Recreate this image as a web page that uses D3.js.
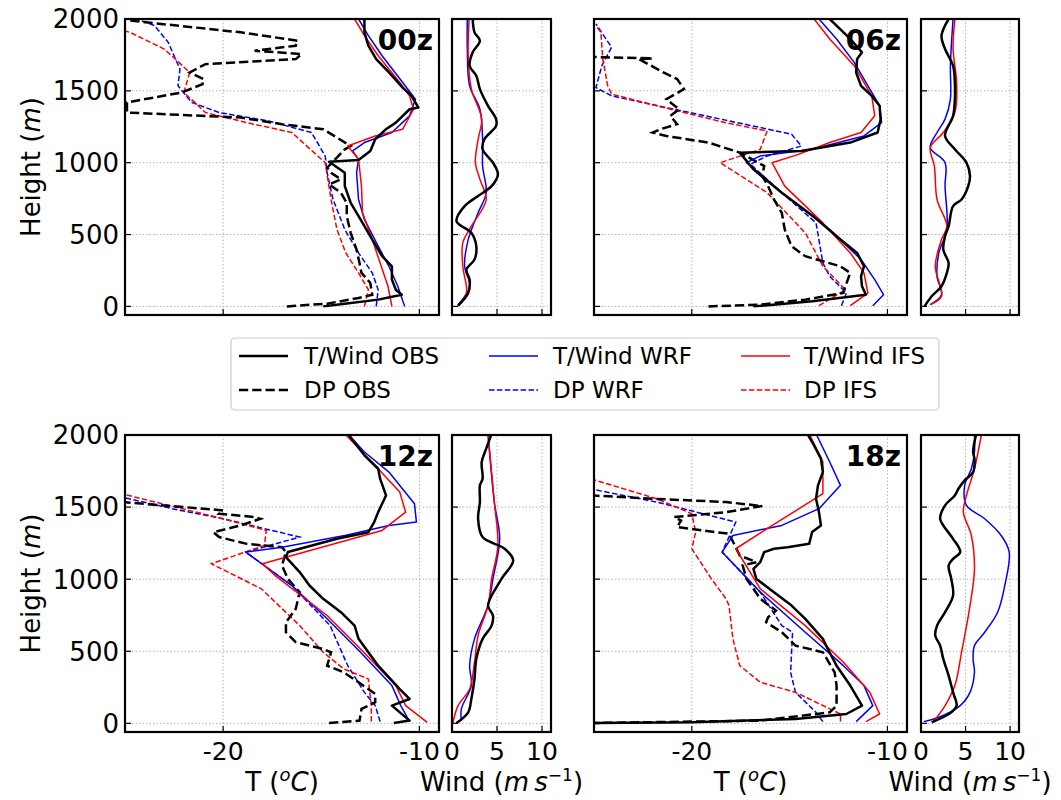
<!DOCTYPE html>
<html><head><meta charset="utf-8">
<script src="https://cdn.jsdelivr.net/npm/d3@7"></script>
<style>body{margin:0;background:#fff}svg{display:block;font-family:"DejaVu Sans",sans-serif}</style>
</head><body><svg id="c" width="1061" height="800"></svg>
<script>
// ---------- tick labels ----------
const timeLabels = ["00z", "06z", "12z", "18z"];
const heightTicks = [0, 500, 1000, 1500, 2000];
const tempTicks = [-20, -10];
const windTicks = [0, 5, 10];
const seriesNames = ["T/Wind OBS", "T/Wind WRF", "T/Wind IFS", "DP OBS", "DP WRF", "DP IFS"];

// ---------- 00z ----------  [value, height m]
const t00Obs = [[-14.9,0],[-13.8,19],[-12.1,47],[-10.9,81],[-11.2,116],[-11.4,186],[-11.4,279],[-11.9,349],[-12.4,465],[-13.0,605],[-13.5,721],[-13.8,837],[-13.8,930],[-14.6,1007],[-13.1,1019],[-12.5,1082],[-12.25,1163],[-11.7,1233],[-11.2,1279],[-10.5,1372],[-10.05,1384],[-10.4,1465],[-10.85,1523],[-11.55,1628],[-12.2,1721],[-12.6,1814],[-12.8,1907],[-12.8,2000]];
const t00Wrf = [[-10.75,0],[-11.1,140],[-11.55,279],[-12.1,419],[-12.8,605],[-13.1,744],[-13.2,930],[-13.1,1023],[-13.4,1082],[-12.8,1140],[-11.4,1210],[-10.5,1326],[-10.2,1442],[-10.85,1558],[-11.9,1744],[-12.6,1884],[-13.1,2000]];
const t00Ifs = [[-11.4,0],[-11.6,140],[-12.0,302],[-12.4,465],[-12.9,651],[-12.95,837],[-13.1,1023],[-13.65,1116],[-12.25,1186],[-10.85,1233],[-10.3,1372],[-10.5,1465],[-11.0,1558],[-12.1,1744],[-12.8,1884],[-13.3,2000]];
const dp00Obs = [[-16.75,0],[-14.7,19],[-13.1,58],[-12.4,81],[-12.5,163],[-12.95,233],[-13.05,302],[-13.2,395],[-13.5,512],[-13.7,628],[-13.7,721],[-14.0,791],[-14.6,849],[-14.0,884],[-14.5,930],[-14.7,965],[-13.8,1093],[-13.5,1116],[-14.9,1233],[-17.0,1268],[-19.1,1314],[-24.9,1349],[-24.9,1419],[-22.1,1489],[-21.05,1547],[-21.0,1582],[-21.7,1628],[-20.9,1686],[-16.3,1721],[-16.0,1756],[-18.4,1779],[-16.3,1814],[-16.2,1849],[-19.1,1907],[-24.75,1989]];
const dp00Wrf = [[-12.2,0],[-12.1,116],[-12.4,233],[-13.1,372],[-13.8,535],[-14.4,744],[-14.7,930],[-14.8,1047],[-15.5,1210],[-17.7,1291],[-20.2,1349],[-21.6,1419],[-22.3,1535],[-22.2,1651],[-22.8,1838],[-23.5,1954],[-24.4,2000]];
const dp00Ifs = [[-12.8,0],[-12.6,116],[-13.1,233],[-13.75,372],[-14.2,535],[-14.5,744],[-14.8,1000],[-16.5,1210],[-18.8,1279],[-20.9,1349],[-22.0,1489],[-21.7,1628],[-23.0,1791],[-24.75,1907],[-25.2,1925]];
const w00Obs = [[0.67,5],[1.8,93],[1.96,186],[1.6,256],[2.5,326],[2.7,419],[2.15,512],[0.5,593],[1.4,698],[2.9,768],[4.4,837],[5.1,919],[4.55,1000],[3.4,1093],[3.6,1163],[4.9,1256],[4.9,1303],[4.0,1396],[3.1,1512],[2.7,1605],[1.96,1675],[2.3,1768],[3.1,1849],[2.5,1907],[2.3,2000]];
const w00Wrf = [[0.67,12],[1.96,140],[1.4,279],[1.8,465],[2.9,651],[3.8,791],[3.4,977],[3.4,1163],[3.1,1372],[1.96,1535],[1.7,1791],[1.7,2000]];
const w00Ifs = [[0.67,5],[1.6,93],[1.2,279],[1.2,442],[2.15,558],[3.8,744],[3.1,884],[2.6,1000],[2.9,1163],[3.3,1303],[2.15,1512],[1.8,1744],[1.9,2000]];

// ---------- 06z ----------
const t06Obs = [[-16.85,0],[-13.85,35],[-11.1,81],[-11.3,140],[-11.35,209],[-11.2,279],[-11.55,372],[-12.4,465],[-13.8,628],[-15.4,791],[-16.85,954],[-17.55,1070],[-14.4,1082],[-11.9,1140],[-10.5,1210],[-10.35,1302],[-10.4,1396],[-10.8,1465],[-11.35,1535],[-11.6,1628],[-11.55,1721],[-11.3,1768],[-11.9,1861],[-12.95,2000]];
const t06Wrf = [[-10.75,5],[-10.2,81],[-10.65,186],[-11.35,326],[-12.95,535],[-15.4,791],[-17.2,1000],[-16.5,1047],[-13.85,1093],[-11.2,1186],[-10.3,1279],[-10.4,1396],[-10.8,1489],[-11.7,1698],[-12.6,1861],[-13.5,2000]];
const t06Ifs = [[-11.9,5],[-11.0,93],[-11.2,233],[-11.9,372],[-13.3,581],[-15.25,837],[-15.9,1000],[-14.55,1058],[-12.95,1140],[-11.35,1210],[-10.65,1326],[-10.8,1465],[-11.7,1675],[-12.95,1861],[-13.75,2000]];
const dp06Obs = [[-19.15,0],[-16.5,12],[-14.2,47],[-12.25,93],[-12.15,140],[-11.9,233],[-12.4,279],[-13.3,314],[-14.2,349],[-14.9,419],[-15.25,535],[-15.4,651],[-15.8,744],[-16.1,837],[-16.4,907],[-16.3,977],[-17.55,1070],[-19.15,1140],[-21.3,1186],[-22.0,1210],[-21.6,1233],[-20.75,1268],[-21.1,1326],[-20.65,1372],[-21.3,1442],[-20.4,1512],[-20.75,1582],[-21.45,1628],[-22.7,1721],[-22.0,1726],[-24.5,1733],[-25.2,1737]];
const dp06Wrf = [[-12.35,5],[-12.1,93],[-12.95,209],[-13.3,302],[-13.65,581],[-15.4,791],[-17.0,989],[-16.15,1047],[-14.4,1116],[-14.9,1198],[-16.1,1233],[-20.9,1372],[-24.1,1465],[-24.9,1523],[-24.6,1675],[-24.1,1803],[-24.9,1965]];
const dp06Ifs = [[-13.5,5],[-12.15,116],[-13.3,279],[-14.2,512],[-16.15,791],[-18.55,1000],[-16.5,1093],[-16.15,1221],[-18.3,1279],[-21.8,1396],[-24.1,1477],[-24.3,1535],[-24.55,1721],[-24.65,1907],[-24.9,1954]];
const w06Obs = [[0.4,0],[1.2,70],[2.3,140],[2.9,233],[3.1,302],[2.5,395],[2.7,488],[3.1,558],[3.6,698],[4.55,744],[5.3,837],[5.5,907],[5.1,1000],[3.8,1093],[2.7,1186],[3.6,1326],[3.8,1442],[3.8,1558],[3.6,1675],[2.7,1791],[2.3,1884],[3.1,2000]];
const w06Wrf = [[1.04,12],[2.3,81],[1.8,209],[2.0,372],[2.9,535],[2.7,837],[2.7,1000],[1.04,1105],[1.8,1210],[2.7,1303],[3.3,1442],[3.3,1675],[3.6,2000]];
const w06Ifs = [[1.04,12],[2.3,70],[1.6,279],[2.3,465],[2.9,558],[1.8,744],[1.5,977],[1.04,1105],[2.5,1210],[3.8,1349],[4.0,1558],[3.6,1791],[3.8,2000]];

// ---------- 12z ----------
const t12Obs = [[-11.3,2],[-10.5,19],[-11.4,123],[-10.5,169],[-11.0,238],[-12.1,400],[-13.1,586],[-13.3,678],[-14.0,771],[-14.9,864],[-15.6,956],[-16.1,1049],[-16.8,1153],[-16.7,1188],[-14.2,1280],[-12.6,1326],[-12.3,1396],[-12.1,1465],[-11.7,1581],[-12.0,1697],[-12.1,1766],[-12.8,1859],[-13.65,2009]];
const t12Wrf = [[-10.5,12],[-10.95,123],[-11.4,262],[-13.0,493],[-14.7,725],[-16.5,956],[-18.85,1188],[-17.0,1222],[-13.8,1303],[-11.55,1373],[-10.15,1396],[-10.25,1523],[-11.55,1743],[-12.8,1882],[-13.65,2009]];
const t12Ifs = [[-9.6,7],[-10.7,123],[-11.2,262],[-13.0,516],[-14.7,748],[-17.35,1025],[-18.0,1107],[-11.9,1338],[-10.7,1465],[-11.0,1604],[-12.1,1766],[-13.8,2009]];
const dp12Obs = [[-14.6,2],[-13.05,19],[-12.95,100],[-12.25,146],[-12.25,204],[-13.1,285],[-13.85,354],[-14.7,400],[-14.5,493],[-14.9,516],[-16.3,563],[-16.8,632],[-16.8,701],[-16.3,794],[-16.1,910],[-16.7,1002],[-17.0,1095],[-16.8,1188],[-17.0,1222],[-18.8,1245],[-20.2,1292],[-20.5,1326],[-19.1,1373],[-18.1,1419],[-18.4,1431],[-20.2,1454],[-20.0,1477],[-22.6,1507],[-25.2,1535]];
const dp12Wrf = [[-12.0,12],[-12.25,123],[-12.8,215],[-13.65,400],[-14.55,678],[-16.5,956],[-18.85,1188],[-16.1,1292],[-20.0,1419],[-22.6,1489],[-25.2,1570]];
const dp12Ifs = [[-12.45,12],[-12.45,123],[-12.6,308],[-13.85,377],[-14.9,493],[-16.1,678],[-18.05,933],[-20.6,1107],[-17.9,1234],[-17.8,1338],[-20.0,1419],[-25.2,1593]];
const w12Obs = [[0.5,2],[1.8,76],[2.15,169],[2.5,308],[2.7,447],[3.4,586],[4.4,678],[4.55,748],[4.0,817],[5.5,1002],[6.8,1130],[5.85,1211],[3.4,1292],[2.9,1419],[3.1,1535],[3.1,1651],[3.4,1697],[3.3,1813],[3.8,1905],[4.4,2009]];
const w12Wrf = [[1.04,19],[1.04,100],[2.15,262],[1.96,400],[2.5,586],[4.0,817],[4.55,1002],[5.3,1280],[4.7,1535],[4.0,2009]];
const w12Ifs = [[0.1,2],[0.67,123],[1.96,238],[2.5,424],[2.9,609],[4.0,817],[4.4,1002],[5.1,1234],[4.7,1535],[4.0,2009]];

// ---------- 18z ----------
const t18Obs = [[-25.2,2],[-20.0,7],[-14.7,30],[-12.1,65],[-11.3,123],[-11.9,262],[-12.6,400],[-13.05,516],[-13.3,586],[-14.2,725],[-14.9,817],[-15.8,910],[-16.7,1002],[-16.85,1072],[-16.5,1118],[-16.3,1188],[-15.8,1211],[-15.1,1222],[-14.0,1245],[-13.85,1327],[-13.4,1373],[-13.5,1465],[-13.65,1558],[-13.55,1651],[-13.3,1743],[-13.4,1836],[-13.75,1928],[-14.1,2009]];
const t18Wrf = [[-11.6,12],[-10.75,123],[-11.2,262],[-12.25,400],[-14.2,632],[-16.5,910],[-18.45,1188],[-17.9,1303],[-15.4,1373],[-13.5,1489],[-12.4,1651],[-12.95,1813],[-13.65,2009]];
const t18Ifs = [[-11.1,12],[-10.4,65],[-10.9,215],[-12.25,424],[-14.2,678],[-16.5,933],[-17.75,1211],[-16.15,1350],[-13.3,1593],[-13.3,1813],[-14.0,2009]];
const dp18Obs = [[-25.2,2],[-16.5,19],[-12.95,76],[-12.6,123],[-12.6,262],[-12.7,354],[-13.3,493],[-14.7,539],[-15.4,632],[-16.2,701],[-16.1,736],[-15.7,782],[-16.5,864],[-17.2,1002],[-17.4,1095],[-16.7,1118],[-17.55,1164],[-17.8,1234],[-18.1,1315],[-20.75,1361],[-20.55,1407],[-20.9,1431],[-18.25,1465],[-16.4,1507],[-18.25,1535],[-22.0,1558],[-25.2,1581]];
const dp18Wrf = [[-13.3,12],[-13.65,76],[-14.7,215],[-14.95,354],[-14.85,632],[-15.4,678],[-16.5,910],[-18.45,1188],[-17.75,1396],[-21.8,1535],[-25.2,1627]];
const dp18Ifs = [[-12.4,12],[-12.4,65],[-14.7,215],[-16.5,285],[-17.55,400],[-17.9,586],[-18.1,817],[-18.25,864],[-19.0,1002],[-20.0,1211],[-19.8,1327],[-20.0,1454],[-21.8,1558],[-25.2,1697]];
const w18Obs = [[1.2,7],[3.4,76],[4.0,123],[3.6,215],[3.1,331],[2.5,447],[2.15,539],[1.6,609],[1.8,678],[2.7,771],[3.6,887],[3.4,1002],[3.1,1095],[3.6,1141],[4.4,1188],[3.6,1280],[2.5,1373],[2.15,1419],[2.7,1512],[3.8,1581],[4.2,1627],[4.9,1685],[5.85,1743],[6.0,1836],[5.85,1882],[6.2,2009]];
const w18Wrf = [[0.3,12],[2.0,42],[4.4,123],[5.5,215],[6.0,354],[5.85,447],[6.0,539],[7.15,632],[8.6,771],[9.4,956],[9.9,1188],[9.0,1303],[7.15,1419],[5.1,1512],[4.9,1651],[5.65,1766],[6.0,1882],[6.0,2009]];
const w18Ifs = [[1.4,12],[2.7,123],[3.8,262],[4.55,493],[5.5,817],[6.0,1072],[5.65,1303],[4.75,1465],[5.1,1581],[6.0,1766],[6.8,2009]];

// ---------- layout ----------
const rows = [{top: 19, bottom: 315}, {top: 435, bottom: 732}];
const cols = [{tL: 125, tR: 439, wL: 452, wR: 551}, {tL: 594, tR: 907, wL: 921, wR: 1019}];
const styles = {
  obs:  {color: "#000000", width: 2.5, dash: "9.25,4"},
  wrf:  {color: "#0000ff", width: 1.5, dash: "5.5,2.4"},
  ifs:  {color: "#ff0000", width: 1.5, dash: "5.5,2.4"}
};
const panels = [
  {label: timeLabels[0], r: 0, c: 0, T: [t00Obs, t00Wrf, t00Ifs], D: [dp00Obs, dp00Wrf, dp00Ifs], W: [w00Obs, w00Wrf, w00Ifs]},
  {label: timeLabels[1], r: 0, c: 1, T: [t06Obs, t06Wrf, t06Ifs], D: [dp06Obs, dp06Wrf, dp06Ifs], W: [w06Obs, w06Wrf, w06Ifs]},
  {label: timeLabels[2], r: 1, c: 0, T: [t12Obs, t12Wrf, t12Ifs], D: [dp12Obs, dp12Wrf, dp12Ifs], W: [w12Obs, w12Wrf, w12Ifs]},
  {label: timeLabels[3], r: 1, c: 1, T: [t18Obs, t18Wrf, t18Ifs], D: [dp18Obs, dp18Wrf, dp18Ifs], W: [w18Obs, w18Wrf, w18Ifs]}
];
const keys = ["obs", "wrf", "ifs"];

const svg = d3.select("#c");
const defs = svg.append("defs");
const FONT = 25;
let clipId = 0;

function drawAxesBox(x, y, xTicks) {
  const g = svg.append("g");
  const [x0, x1] = x.range(), [y0, y1] = y.range();
  xTicks.forEach(t => g.append("line").attr("x1", x(t)).attr("x2", x(t)).attr("y1", y1).attr("y2", y0)
    .attr("stroke", "#b5b5b5").attr("stroke-width", 1).attr("stroke-dasharray", "1.5,2"));
  heightTicks.forEach(t => g.append("line").attr("x1", x0).attr("x2", x1).attr("y1", y(t)).attr("y2", y(t))
    .attr("stroke", "#b5b5b5").attr("stroke-width", 1).attr("stroke-dasharray", "1.5,2"));
  return g;
}
function finishAxes(g, x, y, xTicks, showXLabels) {
  const [x0, x1] = x.range(), [y0, y1] = y.range();
  xTicks.forEach(t => g.append("line").attr("x1", x(t)).attr("x2", x(t)).attr("y1", y0).attr("y2", y0 - 6)
    .attr("stroke", "#000").attr("stroke-width", 1.2));
  heightTicks.forEach(t => g.append("line").attr("x1", x0).attr("x2", x0 + 6).attr("y1", y(t)).attr("y2", y(t))
    .attr("stroke", "#000").attr("stroke-width", 1.2));
  g.append("rect").attr("x", x0).attr("y", y1).attr("width", x1 - x0).attr("height", y0 - y1)
    .attr("fill", "none").attr("stroke", "#000").attr("stroke-width", 2.2);
  if (showXLabels) {
    xTicks.forEach(t => g.append("text").attr("x", x(t)).attr("y", y0 + 28).attr("text-anchor", "middle")
      .attr("font-size", FONT).text(t < 0 ? "-" + Math.abs(t) : t));
  }
}
function clipFor(x, y) {
  const id = "clip" + (clipId++);
  const [x0, x1] = x.range(), [y0, y1] = y.range();
  defs.append("clipPath").attr("id", id).append("rect").attr("x", x0).attr("y", y1).attr("width", x1 - x0).attr("height", y0 - y1);
  return "url(#" + id + ")";
}

panels.forEach(p => {
  const row = rows[p.r], col = cols[p.c];
  const y = d3.scaleLinear().domain([-60, 2000]).range([row.bottom, row.top]);
  const xT = d3.scaleLinear().domain([-25, -9]).range([col.tL, col.tR]);
  const xW = d3.scaleLinear().domain([0, 11]).range([col.wL, col.wR]);
  const showX = p.r === 1;

  const gT = drawAxesBox(xT, y, tempTicks);
  const lineT = d3.line().x(d => xT(d[0])).y(d => y(d[1]));
  const cT = gT.append("g").attr("clip-path", clipFor(xT, y));
  [1, 2, 0].forEach(i => {
    const s = styles[keys[i]];
    cT.append("path").attr("d", lineT(p.D[i])).attr("fill", "none").attr("stroke", s.color)
      .attr("stroke-width", s.width).attr("stroke-dasharray", s.dash);
  });
  [1, 2, 0].forEach(i => {
    const s = styles[keys[i]];
    cT.append("path").attr("d", lineT(p.T[i])).attr("fill", "none").attr("stroke", s.color)
      .attr("stroke-width", s.width).attr("stroke-linejoin", "round");
  });
  finishAxes(gT, xT, y, tempTicks, showX);
  gT.append("text").attr("x", col.tR - 6).attr("y", row.top + 31).attr("text-anchor", "end")
    .attr("font-size", 28).attr("font-weight", "bold").text(p.label);

  const gW = drawAxesBox(xW, y, windTicks);
  const lineW = d3.line().x(d => xW(d[0])).y(d => y(d[1])).curve(d3.curveCatmullRom.alpha(0.5));
  const cW = gW.append("g").attr("clip-path", clipFor(xW, y));
  [1, 2, 0].forEach(i => {
    const s = styles[keys[i]];
    cW.append("path").attr("d", lineW(p.W[i])).attr("fill", "none").attr("stroke", s.color)
      .attr("stroke-width", s.width).attr("stroke-linejoin", "round");
  });
  finishAxes(gW, xW, y, windTicks, showX);

  if (p.c === 0) {
    heightTicks.forEach(t => svg.append("text").attr("x", col.tL - 6).attr("y", y(t)).attr("dy", "0.36em")
      .attr("text-anchor", "end").attr("font-size", 26).text(t));
    svg.append("text").attr("transform", `translate(40,${(row.top + row.bottom) / 2}) rotate(-90)`)
      .attr("text-anchor", "middle").attr("font-size", 26)
      .call(t => { t.append("tspan").text("Height ("); t.append("tspan").attr("font-style", "italic").text("m"); t.append("tspan").text(")"); });
  }
  if (showX) {
    const ty = row.bottom + 59;
    const tl = svg.append("text").attr("x", (col.tL + col.tR) / 2).attr("y", ty).attr("text-anchor", "middle").attr("font-size", 26);
    tl.append("tspan").text("T (");
    tl.append("tspan").attr("font-style", "italic").attr("font-size", 18).attr("dy", -10).text("o");
    tl.append("tspan").attr("font-style", "italic").attr("dy", 10).text("C");
    tl.append("tspan").text(")");
    const wl = svg.append("text").attr("x", (col.wL + col.wR) / 2).attr("y", ty).attr("text-anchor", "middle").attr("font-size", 26);
    wl.append("tspan").text("Wind (");
    wl.append("tspan").attr("font-style", "italic").text("m\u2009s");
    wl.append("tspan").attr("font-size", 17).attr("dy", -10).text("\u22121");
    wl.append("tspan").attr("dy", 10).text(")");
  }
});

// ---------- legend ----------
const lg = svg.append("g");
lg.append("rect").attr("x", 231).attr("y", 338).attr("width", 708).attr("height", 72).attr("rx", 4)
  .attr("fill", "#fff").attr("stroke", "#cccccc").attr("stroke-width", 1.2);
const legX = [{h: 239, t: 304}, {h: 489, t: 553}, {h: 741, t: 804}];
const legY = [356, 390];
seriesNames.forEach((name, i) => {
  const c = i % 3, r = Math.floor(i / 3);
  const s = styles[keys[c]];
  lg.append("line").attr("x1", legX[c].h).attr("x2", legX[c].h + 49).attr("y1", legY[r]).attr("y2", legY[r])
    .attr("stroke", s.color).attr("stroke-width", s.width).attr("stroke-dasharray", r === 1 ? s.dash : null);
  lg.append("text").attr("x", legX[c].t).attr("y", legY[r]).attr("dy", "0.36em").attr("font-size", 23).text(name);
});
</script></body></html>
